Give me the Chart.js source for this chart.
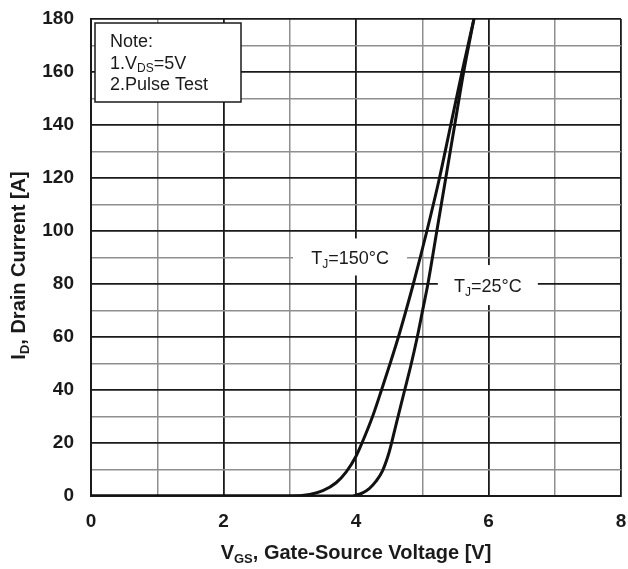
<!DOCTYPE html>
<html><head><meta charset="utf-8">
<script src="https://cdn.jsdelivr.net/npm/chart.js@4.4.0/dist/chart.umd.min.js"></script>
<style>html,body{margin:0;padding:0;background:#fff;}canvas{display:block;}</style>
</head><body>
<canvas id="c" width="628" height="569"></canvas>
<script>
// ---- data ----
const vgs150 = [0, 3.0, 3.3, 3.5, 3.7, 3.85, 4.0, 4.09, 4.25, 4.385, 4.515, 4.64, 4.755, 4.865, 5.07, 5.26, 5.43, 5.60, 5.78];
const id150  = [0, 0,   0.6, 2,   5,   9,    15,  20,   30,   40,    50,    60,   70,    80,    100,  120,  140,  160,  180];
const vgs25  = [0, 3.95, 4.0, 4.1, 4.2, 4.3, 4.4, 4.5,  4.6,  4.735, 4.835, 4.925, 5.005, 5.085, 5.22, 5.355, 5.49, 5.625, 5.78];
const id25   = [0, 0,    0.3, 1.2, 2.8, 5.5, 9.5, 16.5, 26.5, 40,    50,    60,    70,    80,    100,  120,   140,  160,   180];
const xMin = 0, xMax = 8, xStep = 1, xLabelEvery = 2;
const yMin = 0, yMax = 180, yStep = 10, yLabelEvery = 20;
const noteLines = ['Note:', '1.V|DS|=5V', '2.Pulse Test'];
const curveLabels = [
  {x: 3.91, y: 90.2, main: 'T', sub: 'J', rest: '=150°C', w: 114, h: 37},
  {x: 5.99, y: 79.6, main: 'T', sub: 'J', rest: '=25°C', w: 100, h: 40}
];
const xTitle = ['V', 'GS', ', Gate-Source Voltage [V]'];
const yTitle = ['I', 'D', ', Drain Current [A]'];

const FF = '"Liberation Sans", Arial, sans-serif';
const toPts = (xs, ys) => xs.map((x, i) => ({x: x, y: ys[i]}));

function drawSubText(ctx, parts, x, y, size, bold, align) {
  const w = bold ? 'bold ' : '';
  const fMain = w + size + 'px ' + FF;
  const fSub = w + Math.round(size * 0.65) + 'px ' + FF;
  ctx.font = fMain; const w0 = ctx.measureText(parts[0]).width;
  ctx.font = fSub; const w1 = ctx.measureText(parts[1]).width;
  ctx.font = fMain; const w2 = ctx.measureText(parts[2]).width;
  const total = w0 + w1 + w2;
  let sx = align === 'center' ? x - total / 2 : x;
  ctx.textAlign = 'left'; ctx.textBaseline = 'alphabetic';
  ctx.font = fMain; ctx.fillText(parts[0], sx, y);
  ctx.font = fSub; ctx.fillText(parts[1], sx + w0, y + size * 0.2);
  ctx.font = fMain; ctx.fillText(parts[2], sx + w0 + w1, y);
  return total;
}

const annot = {
  id: 'annot',
  beforeDatasetsDraw(chart) {
    const ctx = chart.ctx, xs = chart.scales.x, ys = chart.scales.y, a = chart.chartArea;
    ctx.save();
    curveLabels.forEach(l => {
      const cx = xs.getPixelForValue(l.x), cy = ys.getPixelForValue(l.y);
      ctx.fillStyle = '#fff';
      ctx.fillRect(cx - l.w / 2, cy - l.h / 2, l.w, l.h);
      ctx.fillStyle = '#1a1a1a';
      drawSubText(ctx, [l.main, l.sub, l.rest], cx, cy + 7, 18, false, 'center');
    });
    const bx = a.left + 4, by = a.top + 4, bw = 146, bh = 79;
    ctx.fillStyle = '#fff';
    ctx.fillRect(bx, by, bw, bh);
    ctx.strokeStyle = '#1a1a1a'; ctx.lineWidth = 1.5;
    ctx.strokeRect(bx, by, bw, bh);
    ctx.fillStyle = '#1a1a1a';
    const base = [by + 24, by + 45.5, by + 66.5];
    noteLines.forEach((t, i) => {
      const p = t.split('|');
      if (p.length === 3) drawSubText(ctx, p, bx + 15, base[i], 18, false, 'left');
      else { ctx.font = '18px ' + FF; ctx.textAlign = 'left'; ctx.textBaseline = 'alphabetic'; ctx.fillText(t, bx + 15, base[i]); }
    });
    ctx.restore();
  },
  afterDraw(chart) {
    const ctx = chart.ctx, a = chart.chartArea;
    ctx.save();
    ctx.fillStyle = '#1a1a1a';
    drawSubText(ctx, xTitle, (a.left + a.right) / 2, 559, 20, true, 'center');
    ctx.translate(25, (a.top + a.bottom) / 2 + 8);
    ctx.rotate(-Math.PI / 2);
    drawSubText(ctx, yTitle, 0, 0, 20, true, 'center');
    ctx.restore();
  }
};

function zeroPad(s) { s.paddingTop = 0; s.paddingBottom = 0; s.paddingLeft = 0; s.paddingRight = 0; }

new Chart(document.getElementById('c'), {
  type: 'scatter',
  data: {
    datasets: [
      {label: 'TJ=150°C', data: toPts(vgs150, id150), showLine: true, borderColor: '#111', borderWidth: 3,
       pointRadius: 0, cubicInterpolationMode: 'monotone', fill: false},
      {label: 'TJ=25°C', data: toPts(vgs25, id25), showLine: true, borderColor: '#111', borderWidth: 3,
       pointRadius: 0, cubicInterpolationMode: 'monotone', fill: false}
    ]
  },
  options: {
    responsive: false, animation: false, devicePixelRatio: 1,
    layout: {padding: {top: 19, right: 7, left: 0, bottom: 0}},
    plugins: {legend: {display: false}, tooltip: {enabled: false}},
    scales: {
      x: {
        type: 'linear', min: xMin, max: xMax,
        afterFit(s) { s.height = 73; zeroPad(s); },
        ticks: {stepSize: xStep, autoSkip: false, maxRotation: 0, padding: 14, color: '#1a1a1a',
          font: {family: FF, size: 19, weight: 'bold'},
          callback: v => (v % xLabelEvery === 0 ? String(v) : '')},
        grid: {drawTicks: false, color: c => (c.tick.value % xLabelEvery === 0 ? '#1a1a1a' : '#8f8f8f'),
          lineWidth: c => (c.tick.value % xLabelEvery === 0 ? 1.8 : 1.5)},
        border: {display: true, color: '#1a1a1a', width: 2}
      },
      y: {
        type: 'linear', min: yMin, max: yMax,
        afterFit(s) { s.width = 91; zeroPad(s); },
        ticks: {stepSize: yStep, autoSkip: false, padding: 17, color: '#1a1a1a',
          font: {family: FF, size: 19, weight: 'bold'},
          callback: v => (v % yLabelEvery === 0 ? String(v) : '')},
        grid: {drawTicks: false, color: c => (c.tick.value % yLabelEvery === 0 ? '#1a1a1a' : '#8f8f8f'),
          lineWidth: c => (c.tick.value % yLabelEvery === 0 ? 1.8 : 1.5)},
        border: {display: true, color: '#1a1a1a', width: 2}
      }
    }
  },
  plugins: [annot]
});
</script>
</body></html>
